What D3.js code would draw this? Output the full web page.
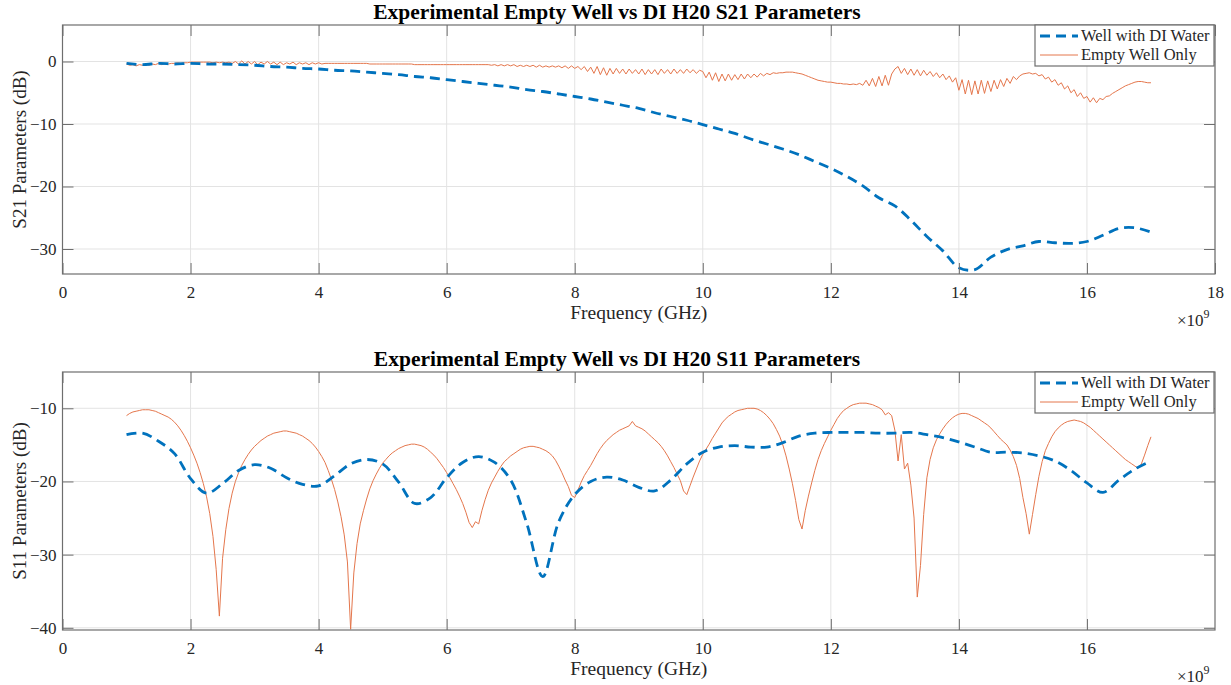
<!DOCTYPE html>
<html>
<head>
<meta charset="utf-8">
<script src="https://cdn.jsdelivr.net/npm/d3@7"></script>
<style>
body { margin: 0; background: #fff; }
text { font-family: "Liberation Serif", "Times New Roman", serif; fill: #262626; }
</style>
</head>
<body>
<div id="container"></div>
<script>
// analyser sweep, GHz (the axes are in Hz, shown as x 10^9)
var sweepCoarse = d3.range(1, 17.0001, 0.25);
var sweepFine = d3.range(1, 17.0001, 0.05);

var xTicks = [0, 2, 4, 6, 8, 10, 12, 14, 16, 18];
var xTicksLower = [0, 2, 4, 6, 8, 10, 12, 14, 16];
var s21Ticks = [-30, -20, -10, 0];
var s11Ticks = [-40, -30, -20, -10];
var seriesNames = ['Well with DI Water', 'Empty Well Only'];

// S21, well with DI water (one value per 0.25 GHz)
var s21Water = [
    -0.3, -0.5, -0.3, -0.4, -0.3, -0.4, -0.4, -0.5, -0.6, -0.8, -0.9, -1.1, -1.2, -1.4, -1.5, -1.7,
    -1.9, -2.1, -2.4, -2.6, -2.9, -3.2, -3.5, -3.8, -4.1, -4.5, -4.8, -5.2, -5.6, -6.0, -6.5, -7.0,
    -7.5, -8.2, -8.8, -9.4, -10.1, -10.8, -11.5, -12.4, -13.2, -14.0, -14.9, -16.0, -17.1, -18.4, -19.9, -21.8,
    -23.1, -25.4, -28.0, -30.3, -33.0, -33.3, -31.3, -30.1, -29.5, -28.8, -29.0, -29.1, -28.8, -27.8, -26.7, -26.6,
    -27.3
];

// S21, empty well (one value per 0.05 GHz, one row per GHz)
var s21Empty = [
    -0.4, -0.6, -0.5, -0.7, -0.5, -0.6, -0.4, -0.6, -0.4, -0.5, -0.3, -0.5, -0.3, -0.4, -0.3, -0.3, -0.2, -0.3, -0.2, -0.2,
    -0.1, -0.1, -0.1, -0.1, -0.1, -0.1, -0.1, -0.2, -0.1, -0.2, -0.1, -0.2, -0.1, -0.3, 0.0, -0.4, 0.1, -0.4, 0.0, -0.4,
    0.0, -0.5, -0.1, -0.4, 0.0, -0.4, -0.1, -0.5, -0.1, -0.5, -0.2, -0.4, -0.1, -0.5, -0.2, -0.4, -0.2, -0.5, -0.2, -0.4,
    -0.2, -0.4, -0.3, -0.3, -0.3, -0.3, -0.3, -0.3, -0.3, -0.3, -0.3, -0.3, -0.3, -0.3, -0.3, -0.3, -0.4, -0.4, -0.4, -0.4,
    -0.4, -0.4, -0.4, -0.4, -0.4, -0.4, -0.4, -0.4, -0.4, -0.4, -0.5, -0.5, -0.5, -0.5, -0.5, -0.5, -0.5, -0.5, -0.5, -0.5,
    -0.5, -0.5, -0.5, -0.5, -0.5, -0.5, -0.5, -0.5, -0.5, -0.5, -0.5, -0.5, -0.5, -0.5, -0.6, -0.5, -0.7, -0.5, -0.7, -0.5,
    -0.7, -0.5, -0.8, -0.6, -0.8, -0.6, -0.8, -0.6, -0.9, -0.6, -0.9, -0.7, -0.9, -0.7, -0.9, -0.7, -1.0, -0.7, -1.1, -0.7,
    -1.1, -0.8, -1.3, -0.8, -1.6, -0.9, -1.9, -0.8, -2.1, -1.0, -2.2, -1.1, -2.0, -1.1, -1.9, -1.2, -2.0, -1.2, -1.9, -1.3,
    -2.0, -1.2, -2.1, -1.3, -2.0, -1.3, -2.1, -1.2, -1.9, -1.3, -2.0, -1.2, -1.9, -1.3, -1.9, -1.2, -1.8, -1.3, -1.9, -1.4,
    -1.6, -2.6, -1.7, -3.0, -1.8, -3.2, -2.0, -3.1, -2.0, -3.0, -2.1, -2.9, -2.0, -2.8, -2.0, -2.6, -2.0, -2.5, -1.9, -2.3,
    -1.9, -2.1, -1.8, -1.9, -1.8, -1.8, -1.7, -1.7, -1.7, -1.8, -1.9, -2.0, -2.2, -2.4, -2.6, -2.8, -3.0, -3.1, -3.2, -3.3,
    -3.3, -3.4, -3.5, -3.5, -3.6, -3.6, -3.7, -3.6, -3.7, -3.5, -3.8, -3.0, -3.9, -2.7, -4.0, -2.4, -3.9, -2.2, -3.8, -2.0,
    -1.2, -0.8, -1.9, -1.1, -2.1, -1.2, -2.2, -1.3, -2.3, -1.4, -2.2, -1.6, -2.4, -1.8, -2.6, -2.0, -2.9, -2.3, -3.3, -2.6,
    -4.6, -2.9, -5.2, -3.0, -5.3, -3.1, -5.2, -3.0, -5.1, -3.1, -4.8, -3.0, -4.4, -2.9, -4.0, -2.7, -3.5, -2.4, -2.9, -2.3,
    -2.0, -1.9, -1.8, -2.0, -1.9, -2.3, -2.1, -2.8, -2.5, -3.3, -2.9, -3.8, -3.4, -4.4, -3.9, -5.0, -4.5, -5.6, -5.0, -5.9,
    -5.6, -6.5, -5.8, -6.6, -5.9, -6.1, -5.6, -5.5, -5.1, -4.8, -4.5, -4.2, -3.9, -3.7, -3.5, -3.3, -3.2, -3.2, -3.3, -3.4,
    -3.4
];

// S11, well with DI water (0.25 GHz)
var s11Water = [
    -13.6, -13.4, -14.5, -16.2, -19.6, -21.6, -20.3, -18.5, -17.7, -18.2, -19.5, -20.4, -20.6, -19.2, -17.6, -17.0,
    -17.6, -20.1, -23.0, -22.2, -19.5, -17.4, -16.6, -17.4, -19.8, -25.7, -33.0, -25.5, -21.8, -20.0, -19.4, -19.8,
    -20.8, -21.3, -19.8, -17.6, -16.0, -15.3, -15.1, -15.3, -15.3, -14.7, -13.8, -13.4, -13.3, -13.3, -13.3, -13.4,
    -13.4, -13.3, -13.6, -14.0, -14.6, -15.3, -16.0, -16.0, -16.1, -16.5, -17.2, -18.5, -20.2, -21.5, -19.8, -18.3,
    -17.2
];

// S11, empty well (0.05 GHz)
var s11Empty = [
    -11.0, -10.7, -10.5, -10.4, -10.3, -10.2, -10.2, -10.2, -10.3, -10.4, -10.6, -10.8, -11.0, -11.2, -11.5, -11.9, -12.4, -13.0, -13.7, -14.5,
    -15.4, -16.4, -17.5, -18.8, -20.3, -22.1, -24.4, -27.5, -32.0, -38.4, -30.5, -26.6, -23.7, -21.6, -20.0, -18.8, -17.8, -17.0, -16.3, -15.7,
    -15.2, -14.8, -14.4, -14.1, -13.8, -13.6, -13.4, -13.3, -13.2, -13.1, -13.1, -13.2, -13.3, -13.4, -13.6, -13.8, -14.1, -14.4, -14.8, -15.3,
    -15.9, -16.6, -17.4, -18.5, -19.7, -21.1, -22.8, -24.8, -27.3, -31.0, -40.2, -32.5, -28.5, -25.8, -24.0, -22.4, -21.0, -19.9, -19.0, -18.2,
    -17.5, -17.0, -16.5, -16.1, -15.8, -15.5, -15.3, -15.1, -15.0, -14.9, -14.9, -15.0, -15.1, -15.3, -15.6, -16.0, -16.4, -16.9, -17.5, -18.1,
    -18.8, -19.5, -20.3, -21.1, -22.0, -23.0, -24.2, -25.6, -26.3, -25.5, -25.8, -24.0, -22.5, -21.2, -20.2, -19.4, -18.6, -17.9, -17.3, -16.9,
    -16.5, -16.2, -15.9, -15.6, -15.4, -15.3, -15.2, -15.2, -15.3, -15.4, -15.6, -15.8, -16.1, -16.5, -17.1, -17.9, -18.8, -19.8, -20.7, -21.9,
    -22.2, -21.2, -20.1, -19.2, -18.5, -17.8, -17.0, -16.2, -15.5, -14.9, -14.4, -14.0, -13.6, -13.3, -13.0, -12.8, -12.6, -12.4, -11.8, -12.4,
    -12.6, -12.8, -13.1, -13.5, -13.9, -14.3, -14.7, -15.2, -15.8, -16.5, -17.3, -18.1, -19.0, -19.9, -21.3, -21.8, -20.6, -19.4, -18.3, -17.2,
    -16.3, -15.6, -14.9, -14.1, -13.4, -12.7, -12.0, -11.5, -11.1, -10.8, -10.5, -10.3, -10.2, -10.1, -10.0, -10.0, -10.0, -10.1, -10.3, -10.6,
    -11.0, -11.5, -12.1, -12.9, -13.8, -15.0, -16.5, -18.3, -20.3, -22.6, -25.2, -26.5, -24.0, -22.0, -20.2, -18.5, -17.0, -15.8, -14.8, -13.9,
    -13.0, -12.2, -11.4, -10.8, -10.3, -10.0, -9.7, -9.5, -9.4, -9.3, -9.3, -9.3, -9.4, -9.5, -9.7, -9.9, -10.2, -10.9, -10.6, -11.0,
    -13.0, -17.2, -13.6, -18.3, -17.5, -20.5, -25.0, -35.8, -31.5, -24.5, -19.5, -17.0, -15.4, -14.3, -13.5, -12.8, -12.2, -11.7, -11.3, -11.0,
    -10.8, -10.7, -10.7, -10.8, -11.0, -11.2, -11.4, -11.7, -12.0, -12.3, -12.7, -13.2, -13.7, -14.2, -14.6, -15.0, -15.7, -16.6, -17.8, -19.6,
    -22.2, -24.4, -27.2, -24.5, -21.8, -19.3, -17.3, -15.8, -14.8, -13.9, -13.2, -12.7, -12.3, -12.0, -11.8, -11.7, -11.6, -11.7, -11.8, -12.0,
    -12.3, -12.6, -13.0, -13.4, -13.8, -14.2, -14.6, -15.0, -15.4, -15.8, -16.2, -16.6, -17.0, -17.3, -17.6, -17.9, -18.2, -17.6, -16.4, -15.1,
    -13.9
];

var width = 1231,
    height = 685;

var waterColor = '#0072BD',
    emptyColor = '#E4764C';

var svg = d3.select('#container').append('svg')
    .attr('width', width)
    .attr('height', height);

var panels = [
    { title: 'Experimental Empty Well vs DI H20 S21 Parameters', yLabel: 'S21 Parameters (dB)',
      top: 25, bottom: 274, yDomain: [-34, 5.84], yTicks: s21Ticks, xTicks: xTicks,
      water: s21Water, empty: s21Empty },
    { title: 'Experimental Empty Well vs DI H20 S11 Parameters', yLabel: 'S11 Parameters (dB)',
      top: 372, bottom: 630, yDomain: [-40.3, -5.04], yTicks: s11Ticks, xTicks: xTicksLower,
      water: s11Water, empty: s11Empty }
];

var left = 62.5,
    right = 1215;

panels.forEach(drawPanel);

function drawPanel(p, i) {
    var x = d3.scaleLinear().domain([0, 18]).range([left, right]);
    var y = d3.scaleLinear().domain(p.yDomain).range([p.bottom, p.top]);
    var g = svg.append('g');

    // grid
    g.selectAll('.vgrid').data(p.xTicks).enter().append('line')
        .attr('x1', function (d) { return x(d); })
        .attr('x2', function (d) { return x(d); })
        .attr('y1', p.top).attr('y2', p.bottom)
        .attr('stroke', '#e3e3e3').attr('stroke-width', 1);
    g.selectAll('.hgrid').data(p.yTicks).enter().append('line')
        .attr('x1', left).attr('x2', right)
        .attr('y1', function (d) { return y(d); })
        .attr('y2', function (d) { return y(d); })
        .attr('stroke', '#e3e3e3').attr('stroke-width', 1);

    // curves
    var clipId = 'clip' + i;
    svg.append('clipPath').attr('id', clipId).append('rect')
        .attr('x', left).attr('y', p.top - 1)
        .attr('width', right - left).attr('height', p.bottom - p.top + 2);

    var lineWater = d3.line()
        .x(function (d, k) { return x(sweepCoarse[k]); })
        .y(function (d) { return y(d); })
        .curve(d3.curveCatmullRom);
    var lineEmpty = d3.line()
        .x(function (d, k) { return x(sweepFine[k]); })
        .y(function (d) { return y(d); });

    var plot = g.append('g').attr('clip-path', 'url(#' + clipId + ')');
    plot.append('path').datum(p.empty)
        .attr('d', lineEmpty)
        .attr('fill', 'none')
        .attr('stroke', emptyColor)
        .attr('stroke-width', 1);
    plot.append('path').datum(p.water)
        .attr('d', lineWater)
        .attr('fill', 'none')
        .attr('stroke', waterColor)
        .attr('stroke-width', 2.8)
        .attr('stroke-dasharray', '10,6');

    // axes, ticks inside like matlab
    var axisColor = '#6e6e6e';
    var xAxis = d3.axisBottom(x).tickValues(p.xTicks).tickSizeInner(-11).tickSizeOuter(0).tickPadding(12)
        .tickFormat(d3.format('d'));
    var xTop = d3.axisTop(x).tickValues(p.xTicks).tickSizeInner(-11).tickSizeOuter(0).tickFormat('');
    var yAxis = d3.axisLeft(y).tickValues(p.yTicks).tickSizeInner(-11).tickSizeOuter(0).tickPadding(6)
        .tickFormat(d3.format('d'));
    var yRight = d3.axisRight(y).tickValues(p.yTicks).tickSizeInner(-11).tickSizeOuter(0).tickFormat('');

    var axes = [
        g.append('g').attr('transform', 'translate(0,' + p.bottom + ')').call(xAxis),
        g.append('g').attr('transform', 'translate(0,' + p.top + ')').call(xTop),
        g.append('g').attr('transform', 'translate(' + left + ',0)').call(yAxis),
        g.append('g').attr('transform', 'translate(' + right + ',0)').call(yRight)
    ];
    axes.forEach(function (a) {
        a.select('.domain').remove();
        a.selectAll('line').attr('stroke', axisColor);
        a.selectAll('text').attr('font-size', 17).attr('fill', '#262626')
            .attr('font-family', '"Liberation Serif", serif');
    });
    g.append('rect')
        .attr('x', left).attr('y', p.top)
        .attr('width', right - left).attr('height', p.bottom - p.top)
        .attr('fill', 'none').attr('stroke', axisColor).attr('stroke-width', 1.2);

    // texts
    g.append('text')
        .attr('x', 617).attr('y', p.top - 6)
        .attr('text-anchor', 'middle')
        .attr('font-size', 21.5).attr('font-weight', 'bold')
        .style('fill', '#000')
        .text(p.title);
    g.append('text')
        .attr('x', (left + right) / 2).attr('y', p.bottom + 45)
        .attr('text-anchor', 'middle')
        .attr('font-size', 19.5)
        .text('Frequency (GHz)');
    g.append('text')
        .attr('transform', 'translate(26,' + (p.top + p.bottom) / 2 + ') rotate(-90)')
        .attr('text-anchor', 'middle')
        .attr('font-size', 19)
        .text(p.yLabel);
    var mult = g.append('text')
        .attr('x', 1177).attr('y', p.bottom + 52)
        .attr('font-size', 17);
    mult.append('tspan').text('\u00d710');
    mult.append('tspan').attr('dy', -8).attr('font-size', 12).text('9');

    // legend
    var lg = g.append('g').attr('transform', 'translate(1035,' + p.top + ')');
    lg.append('rect')
        .attr('width', 179).attr('height', 41)
        .attr('fill', '#fff').attr('stroke', axisColor).attr('stroke-width', 1.2);
    lg.append('line')
        .attr('x1', 5).attr('x2', 43).attr('y1', 11).attr('y2', 11)
        .attr('stroke', waterColor).attr('stroke-width', 2.8).attr('stroke-dasharray', '10,6');
    lg.append('line')
        .attr('x1', 5).attr('x2', 43).attr('y1', 30).attr('y2', 30)
        .attr('stroke', emptyColor).attr('stroke-width', 1);
    lg.selectAll('.lbl').data(seriesNames).enter().append('text')
        .attr('x', 46)
        .attr('y', function (d, k) { return 16 + k * 19; })
        .attr('font-size', 16.5)
        .text(function (d) { return d; });
}
</script>
</body>
</html>
